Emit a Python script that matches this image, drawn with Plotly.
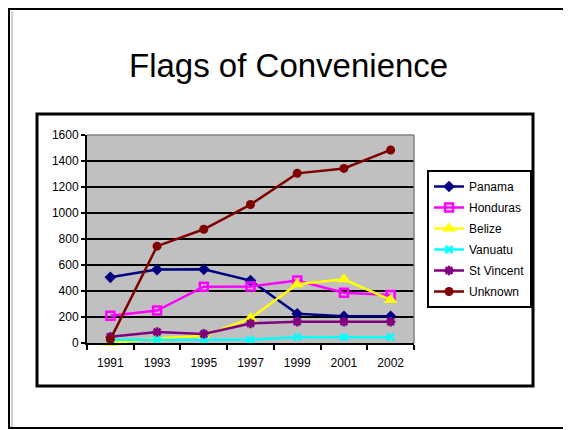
import plotly.graph_objects as go

years = ["1991", "1993", "1995", "1997", "1999", "2001", "2002"]

panama = [505, 565, 567, 480, 225, 205, 205]
honduras = [210, 250, 433, 435, 480, 387, 370]
belize = [0, 35, 55, 190, 452, 490, 331]
vanuatu = [25, 25, 25, 25, 45, 45, 45]
st_vincent = [48, 85, 70, 150, 163, 163, 163]
unknown = [28, 745, 875, 1065, 1305, 1343, 1485]

y_ticks = [0, 200, 400, 600, 800, 1000, 1200, 1400, 1600]

series = [
    ("Panama", panama, "#000080", dict(symbol="diamond", size=9)),
    ("Honduras", honduras, "#FF00FF",
     dict(symbol="square-open", size=8, line=dict(color="#FF00FF", width=2.5))),
    ("Belize", belize, "#FFFF00", dict(symbol="triangle-up", size=12)),
    ("Vanuatu", vanuatu, "#00FFFF",
     dict(symbol="x-thin-open", size=7, line=dict(color="#00FFFF", width=2.5))),
    ("St Vincent", st_vincent, "#800080",
     dict(symbol="asterisk-open", size=8, line=dict(color="#800080", width=2.5))),
    ("Unknown", unknown, "#800000", dict(symbol="circle", size=9)),
]

fig = go.Figure()
for name, vals, col, mk in series:
    fig.add_trace(go.Scatter(
        x=years, y=vals, name=name, mode="lines+markers",
        line=dict(color=col, width=2.5),
        marker=dict(color=col, **mk),
        legendgroup=name, cliponaxis=False,
    ))

# page body adds an 8px margin, so screen position s -> figure position s - 8
OFF = 8
L, R, T, B = 87 - OFF, 414 - OFF, 135 - OFF, 343 - OFF
W, H = R - L, B - T
px = lambda v: (v - OFF - L) / W
py = lambda v: (B - (v - OFF)) / H

shapes = [
    # slide border
    dict(type="rect", xref="paper", yref="paper", x0=px(9), x1=px(567), y0=py(9), y1=py(428),
         line=dict(color="black", width=2)),
    dict(type="line", xref="paper", yref="paper", x0=px(12), x1=px(12), y0=py(11), y1=py(427),
         line=dict(color="#A0A0A0", width=1)),
    # chart box
    dict(type="rect", xref="paper", yref="paper", x0=px(37), x1=px(533), y0=py(114), y1=py(386),
         line=dict(color="black", width=3)),
    # plot area gray top/right edges
    dict(type="line", xref="paper", yref="paper", x0=0, x1=1, y0=1, y1=1,
         line=dict(color="#808080", width=1.5)),
    dict(type="line", xref="paper", yref="paper", x0=1, x1=1, y0=0, y1=1,
         line=dict(color="#808080", width=1.5)),
]

fig.update_layout(
    width=571, height=430,
    margin=dict(l=L, r=571 - R, t=T, b=430 - B),
    paper_bgcolor="white", plot_bgcolor="#C0C0C0",
    font=dict(family="Liberation Sans, Arial, sans-serif", size=12, color="black"),
    showlegend=True,
    legend=dict(x=px(427), y=py(170), xanchor="left", yanchor="top",
                bordercolor="black", borderwidth=2, bgcolor="white",
                traceorder="grouped", tracegroupgap=2,
                font=dict(size=12)),
    shapes=shapes,
    annotations=[dict(text="Flags of Convenience", xref="paper", yref="paper",
                      x=px(288), y=py(65), xanchor="center", yanchor="middle",
                      showarrow=False, font=dict(size=33, color="black"))],
)

fig.update_xaxes(
    type="category", range=[-0.5, 6.5],
    showline=True, linecolor="black", linewidth=2,
    ticks="outside", tickson="boundaries", ticklen=5, tickwidth=2, tickcolor="black",
    ticklabelstandoff=8,
    showgrid=False, zeroline=False,
)
fig.update_yaxes(
    range=[0, 1600], tickvals=y_ticks,
    showline=True, linecolor="black", linewidth=2,
    ticks="outside", ticklen=4, tickwidth=2, tickcolor="black",
    showgrid=True, gridcolor="black", gridwidth=1.5, zeroline=False,
)

fig.write_html("out.html")
